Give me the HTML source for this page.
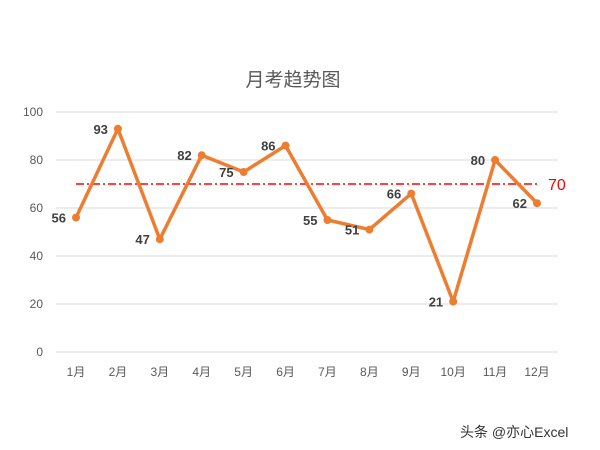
<!DOCTYPE html>
<html><head><meta charset="utf-8"><style>
body{margin:0;background:#fff}
svg{display:block;font-family:"Liberation Sans","Noto Sans CJK SC",sans-serif}
</style></head><body>
<svg width="600" height="450">
<text x="293" y="86" text-anchor="middle" font-size="19" fill="#595959">月考趋势图</text>
<g id="grid"></g><g id="series"></g>
<text x="460" y="437" font-size="14" fill="#333">头条 @亦心Excel</text>
</svg>
<script>
const categories=["1月","2月","3月","4月","5月","6月","7月","8月","9月","10月","11月","12月"];
const scores=[56,93,47,82,75,86,55,51,66,21,80,62];
const yTicks=[0,20,40,60,80,100];
const target=70;
const NS="http://www.w3.org/2000/svg";
const x=i=>76+i*(537-76)/(categories.length-1);
const y=v=>352-v*2.4;
const grid=document.getElementById('grid'),ser=document.getElementById('series');
function mk(p,tag,a,t){const e=document.createElementNS(NS,tag);for(const k in a)e.setAttribute(k,a[k]);if(t!==undefined)e.textContent=t;p.appendChild(e);return e;}
yTicks.forEach(v=>{
 const l=mk(grid,'line',{x1:56,x2:558,y1:y(v),y2:y(v),stroke:'#d9d9d9','stroke-width':1});
 
 
 const t=mk(grid,'text',{x:43,y:y(v)+4,'text-anchor':'end','font-size':12,fill:'#595959'},v);
 
 
});
categories.forEach((c,i)=>{
 const t=mk(grid,'text',{x:x(i),y:376,'text-anchor':'middle','font-size':12,fill:'#595959'},c);
 
 
});
const tl=mk(ser,'line',{x1:x(0),x2:x(11),y1:y(target),y2:y(target),stroke:'#ff0000','stroke-width':1.5,'stroke-dasharray':'8 3 2 3'});


const tt=mk(ser,'text',{x:548,y:y(target)+6,'font-size':16,fill:'#ff0000'},target);


const pl=mk(ser,'polyline',{points:scores.map((v,i)=>x(i)+','+y(v)).join(' '),fill:'none',stroke:'#ed7d31','stroke-width':3.5,'stroke-linejoin':'round'});


scores.forEach((v,i)=>{
 const c=mk(ser,'circle',{cx:x(i),cy:y(v),r:4,fill:'#ed7d31'});
 
 
 const t=mk(ser,'text',{x:x(i)-10,y:y(v)+5,'text-anchor':'end','font-size':13,'font-weight':'bold',fill:'#404040'},v);
 
 
});
</script>
</body></html>
